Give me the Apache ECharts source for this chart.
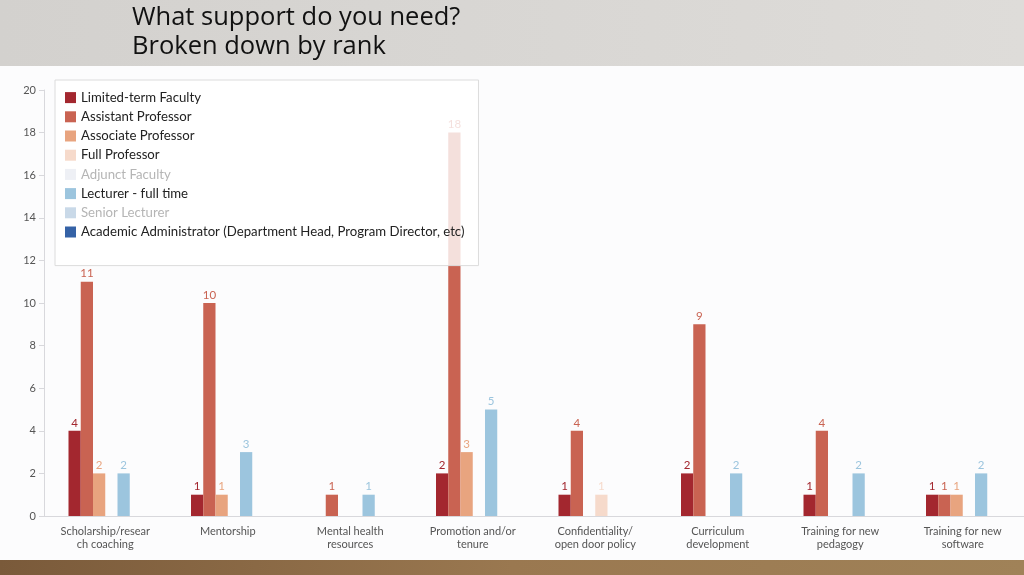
<!DOCTYPE html>
<html>
<head>
<meta charset="utf-8">
<script src="https://cdn.jsdelivr.net/npm/echarts@6/dist/echarts.min.js"></script>
<style>html,body{margin:0;padding:0;}#c{width:1024px;height:575px;}</style>
</head>
<body>
<div id="c"></div>
<script>
const categories = ['Scholarship/resear\nch coaching','Mentorship','Mental health\nresources','Promotion and/or\ntenure','Confidentiality/\nopen door policy','Curriculum\ndevelopment','Training for new\npedagogy','Training for new\nsoftware'];
const limitedTerm = [4, 1, null, 2, 1, 2, 1, 1];
const assistantProf = [11, 10, 1, 18, 4, 9, 4, 1];
const associateProf = [2, 1, null, 3, null, null, null, 1];
const fullProf = [null, null, null, null, 1, null, null, null];
const adjunct = [];
const lecturerFT = [2, 3, 1, 5, null, 2, 2, 2];
const seniorLecturer = [];
const academicAdmin = [null, null, null, null, null, null, null, null];
const yTicks = [0, 2, 4, 6, 8, 10, 12, 14, 16, 18, 20];

const seriesDefs = [
  {name: 'Limited-term Faculty', data: limitedTerm, color: '#a3272f', axis: 0},
  {name: 'Assistant Professor', data: assistantProf, color: '#c96352', axis: 0},
  {name: 'Associate Professor', data: associateProf, color: '#e8a47f', axis: 0},
  {name: 'Full Professor', data: fullProf, color: '#f6dacb', axis: 0},
  {name: 'Adjunct Faculty', data: adjunct, color: '#eef0f5', axis: 1, grey: true},
  {name: 'Lecturer - full time', data: lecturerFT, color: '#9cc5de', axis: 0},
  {name: 'Senior Lecturer', data: seniorLecturer, color: '#c9d9e8', axis: 1, grey: true},
  {name: 'Academic Administrator (Department Head, Program Director, etc)', data: academicAdmin, color: '#3562a6', axis: 0}
];

const chart = echarts.init(document.getElementById('c'));
chart.setOption({
  backgroundColor: '#fcfcfd',
  animation: false,
  graphic: [
    {type: 'rect', z: -10, shape: {x: 0, y: 0, width: 1024, height: 66},
     style: {fill: new echarts.graphic.LinearGradient(0, 0, 1, 0, [{offset: 0, color: '#d3d1ce'}, {offset: 1, color: '#dedcd9'}])}},
    {type: 'rect', z: -10, shape: {x: 0, y: 560, width: 1024, height: 15},
     style: {fill: new echarts.graphic.LinearGradient(0, 0, 1, 0, [{offset: 0, color: '#7a5a3a'}, {offset: 0.5, color: '#9a7850'}, {offset: 1, color: '#a08258'}])}}
  ],
  title: {
    text: 'What support do you need?\nBroken down by rank',
    left: 132, top: 3, padding: 0,
    textStyle: {fontFamily: 'Open Sans', fontSize: 25.5, fontWeight: 'normal', color: '#111', lineHeight: 29}
  },
  legend: {
    orient: 'vertical', left: 55, top: 80,
    padding: [8, 14, 24, 10],
    itemWidth: 11, itemHeight: 11, itemGap: 0,
    icon: 'rect',
    backgroundColor: 'rgba(255,255,255,0.8)',
    borderColor: '#dcdcdc', borderWidth: 1,
    textStyle: {fontFamily: 'Lato', fontSize: 13.2, color: '#222', lineHeight: 19.2},
    data: seriesDefs.map(s => s.grey ? {name: s.name, textStyle: {color: '#b5b5b5'}} : {name: s.name})
  },
  grid: {left: 44, right: 0, top: 90, bottom: 59},
  xAxis: [
    {type: 'category', data: categories,
     axisLine: {lineStyle: {color: '#d8d8dc'}},
     axisTick: {length: 6, lineStyle: {color: '#d8d8dc'}},
     axisLabel: {fontFamily: 'Lato', fontSize: 11, color: '#555', lineHeight: 13, margin: 9}},
    {type: 'category', data: categories, show: false}
  ],
  yAxis: {
    type: 'value', min: 0, max: 20, interval: 2,
    splitLine: {show: false},
    axisLine: {show: true, lineStyle: {color: '#d8d8dc'}},
    axisTick: {show: true, length: 5, lineStyle: {color: '#d8d8dc'}},
    axisLabel: {fontFamily: 'Lato', fontSize: 11, color: '#555', margin: 8,
      formatter: v => yTicks.indexOf(v) >= 0 ? String(v) : ''}
  },
  series: seriesDefs.map(s => ({
    name: s.name, type: 'bar', data: s.data, xAxisIndex: s.axis,
    barGap: '0%', barCategoryGap: '40%',
    itemStyle: {color: s.color},
    label: {show: true, position: 'top', distance: 2, fontFamily: 'Lato', fontSize: 11.5, color: s.color}
  }))
});
</script>
</body>
</html>
